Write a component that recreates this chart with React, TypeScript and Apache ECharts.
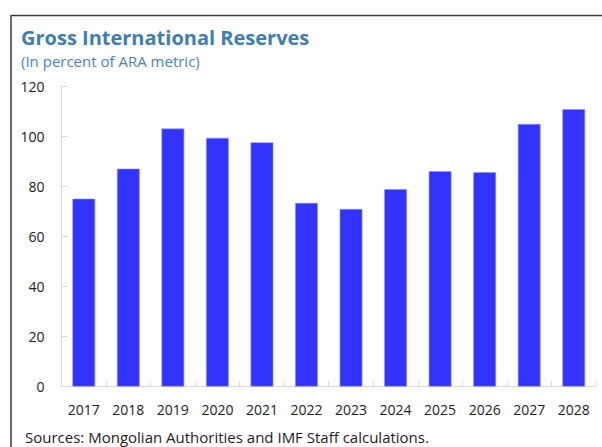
import React, { useEffect, useRef } from "react";
import * as echarts from "echarts";

const years = ["2017", "2018", "2019", "2020", "2021", "2022", "2023", "2024", "2025", "2026", "2027", "2028"];
const reserves = [75, 87, 103, 99.3, 97.5, 73.3, 70.9, 78.8, 86, 85.6, 104.8, 110.7];
const titleText = "Gross International Reserves";
const subtitleText = "(In percent of ARA metric)";
const sourceText = "Sources: Mongolian Authorities and IMF Staff calculations.";

const FONT = "'Open Sans', 'Noto Sans', sans-serif";

export default function App() {
  const ref = useRef<HTMLDivElement>(null);
  useEffect(() => {
    if (!ref.current) return;
    const chart = echarts.init(ref.current, null, { renderer: "svg" });
    chart.setOption({
      animation: false,
      backgroundColor: "#ffffff",
      grid: { left: 61.5, right: 6, top: 86, bottom: 60.5, containLabel: false },
      xAxis: {
        type: "category",
        data: years,
        axisLine: { show: true, lineStyle: { color: "#d9d9d9", width: 1 } },
        axisTick: { show: true, inside: true, length: 5, alignWithLabel: false, lineStyle: { color: "#d9d9d9" } },
        axisLabel: { color: "#222222", fontSize: 14, fontFamily: FONT, margin: 16, interval: 0 },
        splitLine: { show: false },
      },
      yAxis: {
        type: "value",
        min: 0,
        max: 120,
        interval: 20,
        axisLine: { show: true, lineStyle: { color: "#d9d9d9", width: 1 } },
        axisTick: { show: true, inside: true, length: 6, lineStyle: { color: "#d9d9d9" } },
        axisLabel: { color: "#222222", fontSize: 14, fontFamily: FONT, margin: 17 },
        splitLine: { show: false },
      },
      series: [
        {
          type: "bar",
          data: reserves,
          barCategoryGap: "49%",
          itemStyle: { color: "#3333FF", borderColor: "#8f94ff", borderWidth: 0.6 },
        },
      ],
      graphic: [
        {
          type: "line",
          shape: { x1: 11, y1: 15.5, x2: 602, y2: 15.5 },
          style: { stroke: "#3a3a3a", lineWidth: 1.5 },
        },
        {
          type: "line",
          shape: { x1: 11, y1: 15, x2: 11, y2: 447 },
          style: { stroke: "#3a3a3a", lineWidth: 1.5 },
        },
        {
          type: "text",
          x: 21,
          y: 37,
          style: {
            text: titleText,
            fill: "#3F7DB5",
            font: `bold 20px ${FONT}`,
            textVerticalAlign: "middle",
          },
        },
        {
          type: "text",
          x: 21,
          y: 61,
          style: {
            text: subtitleText,
            fill: "#4A84BA",
            font: `15px ${FONT}`,
            textVerticalAlign: "middle",
          },
        },
        {
          type: "text",
          x: 25,
          y: 437,
          style: {
            text: sourceText,
            fill: "#222222",
            font: `15px ${FONT}`,
            textVerticalAlign: "middle",
          },
        },
      ],
    });
    return () => chart.dispose();
  }, []);
  return (
    <div
      ref={ref}
      style={{ position: "fixed", left: 0, top: 0, width: 602, height: 447, background: "#fff" }}
    />
  );
}
